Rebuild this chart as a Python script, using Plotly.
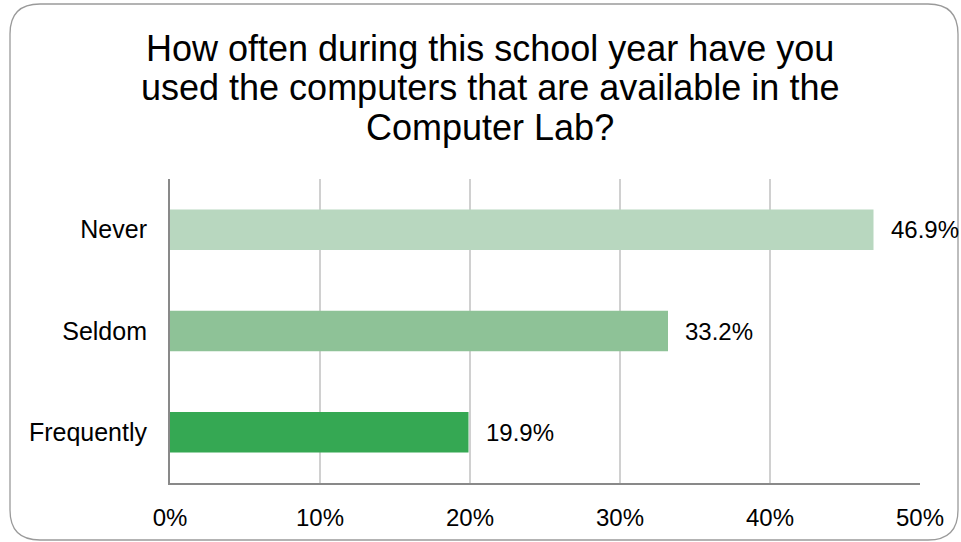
import plotly.graph_objects as go

categories = ["Never", "Seldom", "Frequently"]
values = [46.9, 33.2, 19.9]
labels = ["46.9%", "33.2%", "19.9%"]
bar_colors = ["#b8d7bf", "#8ec297", "#35a853"]
title_lines = [
    "How often during this school year have you",
    "used the computers that are available in the",
    "Computer Lab?",
]
x_ticks = [0, 10, 20, 30, 40, 50]

W, H = 961, 542
L, R, T, B = 170, 920, 179, 483  # plot area in pixels


def px(x):
    return (x - L) / (R - L)


def py(y):
    return (B - y) / (B - T)


FONT = "Liberation Sans, Arial, sans-serif"

fig = go.Figure()
fig.add_trace(go.Bar(
    y=categories,
    x=values,
    orientation="h",
    marker=dict(color=bar_colors, line=dict(width=0)),
    hoverinfo="skip",
))

for c, v, t in zip(categories, values, labels):
    fig.add_annotation(x=v, y=c, xref="x", yref="y", text=t, showarrow=False,
                       xanchor="left", yanchor="middle", xshift=15,
                       font=dict(family=FONT, size=24, color="#000000"))

# title lines
title_y = [48, 88, 127]
for line, ty in zip(title_lines, title_y):
    fig.add_annotation(x=px(490), y=py(ty), xref="paper", yref="paper",
                       text=line, showarrow=False, xanchor="center", yanchor="middle",
                       font=dict(family=FONT, size=36, color="#000000"))

# rounded frame
x0, x1, y0, y1, r = 10, 958, 4, 540, 30
path = (
    f"M {px(x0+r)},{py(y0)} L {px(x1-r)},{py(y0)} "
    f"Q {px(x1)},{py(y0)} {px(x1)},{py(y0+r)} "
    f"L {px(x1)},{py(y1-r)} Q {px(x1)},{py(y1)} {px(x1-r)},{py(y1)} "
    f"L {px(x0+r)},{py(y1)} Q {px(x0)},{py(y1)} {px(x0)},{py(y1-r)} "
    f"L {px(x0)},{py(y0+r)} Q {px(x0)},{py(y0)} {px(x0+r)},{py(y0)} Z"
)
fig.add_shape(type="path", path=path, xref="paper", yref="paper",
              line=dict(color="#9a9a9a", width=1.3), fillcolor="rgba(0,0,0,0)",
              layer="below")

fig.update_layout(
    width=W, height=H,
    margin=dict(l=L, r=W - R, t=T, b=H - B, pad=0),
    paper_bgcolor="white", plot_bgcolor="white",
    showlegend=False,
    bargap=0.6,
    font=dict(family=FONT, size=24, color="#000000"),
    xaxis=dict(
        range=[0, 50], tickvals=x_ticks, ticktext=[f"{v}%" for v in x_ticks],
        showgrid=True, gridcolor="#d0d0d0", gridwidth=2,
        showline=True, linecolor="#898989", linewidth=2,
        zeroline=False, ticks="", ticklabelstandoff=12,
        tickfont=dict(family=FONT, size=24, color="#000000"),
        fixedrange=True,
    ),
    yaxis=dict(
        autorange="reversed", showgrid=False,
        showline=True, linecolor="#898989", linewidth=2,
        zeroline=False, ticks="", ticklabelstandoff=16,
        tickfont=dict(family=FONT, size=25, color="#000000"),
        fixedrange=True,
    ),
)

fig.write_html("out.html", config={"displayModeBar": False},
               post_script="document.body.style.margin='0px';")
